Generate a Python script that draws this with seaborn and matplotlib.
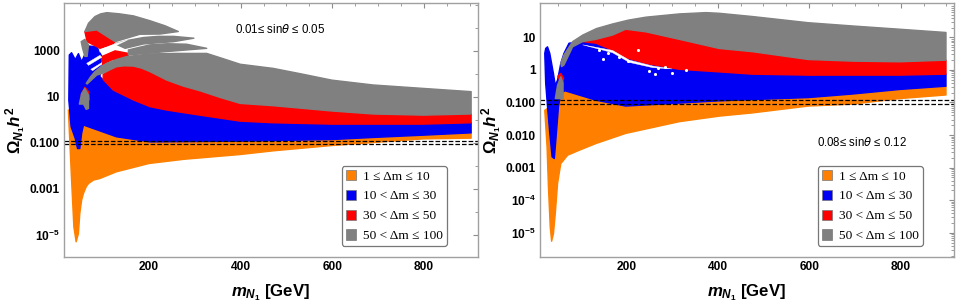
import matplotlib
matplotlib.use('Agg')
import matplotlib.pyplot as plt
from matplotlib.patches import Patch
from matplotlib.ticker import FixedLocator, LogLocator, NullFormatter
import numpy as np
import pandas as pd
import seaborn as sns

ORANGE, BLUE, RED, GRAY = '#FF8000', '#0000F5', '#FF0000', '#808080'
legend_labels = ['1 ≤ Δm ≤ 10', '10 < Δm ≤ 30', '30 < Δm ≤ 50', '50 < Δm ≤ 100']

# relic density bounds
relic_band = [0.12, 0.09]

# ---- left panel, outlines as (mass, log10 of omega h^2) ----
l_orange_x = [24, 28, 31, 36, 41, 46, 49, 53, 57, 63, 68, 79, 93, 129, 200, 275, 399, 471, 599, 689, 799, 903,
              903, 799, 689, 599, 399, 202, 129, 57, 46, 31, 24]
l_orange_y = [.42, -1.32, -2.62, -4.65, -5.30, -4.94, -4.07, -3.49, -3.20, -2.91, -2.77, -2.62, -2.55, -2.26, -1.90, -1.72, -1.51, -1.35, -1.12, -.99, -.83, -.80,
              -.57, -.67, -.77, -.86, -.93, -.96, -.74, -.23, -.52, .42, .42]
l_blue_x = [25, 30, 39, 44, 49, 53, 57, 129, 202, 399, 599, 689, 799, 903,
            903, 799, 689, 599, 471, 399, 311, 239, 202, 166, 122, 93, 97, 86, 68, 53, 46, 39, 31, 26]
l_blue_y = [.85, -.3, -.81, -1.25, -1.25, -.59, -.23, -.74, -.96, -.93, -.86, -.77, -.67, -.57,
            -.13, -.19, -.19, -.19, -.13, -.06, .20, .42, .57, .86, 1.29, 1.87, 2.75, 3.17, 3.2, 2.52, 2.87, 2.61, 2.91, 2.81]
l_red_x = [100, 115, 129, 145, 166, 184, 202, 239, 275, 311, 355, 399, 471, 599, 689, 799, 903,
           903, 799, 689, 599, 471, 399, 311, 239, 202, 166, 122, 100]
l_red_y = [1.96, 2.17, 2.30, 2.34, 2.33, 2.24, 2.09, 1.72, 1.46, 1.26, .97, .71, .61, .38, .25, .20, .25,
           -.13, -.19, -.19, -.19, -.13, -.06, .20, .42, .57, .86, 1.29, 1.75]
l_red_a_x = [60, 86, 126, 122, 93, 65]
l_red_a_y = [3.83, 3.90, 3.39, 3.29, 3.10, 3.39]
l_red_b_x = [97, 126, 155, 155, 118, 97]
l_red_b_y = [2.74, 2.99, 2.88, 2.74, 2.59, 2.38]
l_red_c_x = [52, 60, 68, 70]
l_red_c_y = [1.07, 1.41, 1.22, .86]
l_gray_x = [63, 72, 82, 95, 108, 130, 151, 202, 260, 326, 362, 399, 471, 530, 599, 689, 799, 903,
            903, 799, 689, 599, 471, 399, 355, 311, 275, 239, 202, 184, 166, 145, 129, 115, 100, 86, 65]
l_gray_y = [1.58, 1.85, 2.09, 2.30, 2.45, 2.62, 2.74, 2.86, 2.88, 2.88, 2.65, 2.41, 2.23, 2.00, 1.72, 1.51, 1.36, 1.22,
            .25, .20, .25, .38, .61, .71, .97, 1.26, 1.46, 1.72, 2.09, 2.24, 2.33, 2.34, 2.30, 2.17, 2.02, 1.94, 1.55]
l_lobe_x = [60, 68, 82, 95, 108, 135, 166, 202, 235, 264, 224, 180, 126, 86]
l_lobe_y = [3.83, 4.19, 4.48, 4.60, 4.65, 4.60, 4.51, 4.30, 4.08, 3.83, 3.72, 3.71, 3.39, 3.90]
l_streak2_x = [126, 155, 188, 220, 254, 298, 254, 188, 148]
l_streak2_y = [3.30, 3.45, 3.57, 3.62, 3.62, 3.54, 3.39, 3.29, 3.10]
l_streak3_x = [155, 180, 202, 240, 282, 326, 239, 155]
l_streak3_y = [3.03, 3.15, 3.25, 3.30, 3.28, 3.10, 2.96, 2.81]
l_blob1_x = [52, 60, 68, 65, 60, 55]
l_blob1_y = [3.39, 3.49, 3.25, 2.75, 2.75, 3.10]
l_blob2_x = [48, 53, 60, 68, 68, 63, 57]
l_blob2_y = [.68, 1.14, 1.36, 1.07, .49, .45, .68]
l_gap1_x = [64, 93, 97, 68]
l_gap1_y = [2.45, 2.80, 2.71, 2.36]
l_gap2_x = [73, 97, 97, 77]
l_gap2_y = [2.19, 2.48, 2.41, 2.13]
l_gap3_x = [92, 126, 153, 126, 93]
l_gap3_y = [3.03, 3.30, 3.46, 3.20, 2.93]

# ---- right panel ----
r_orange_x = [22, 27, 30, 34, 37, 41, 45, 50, 57, 72, 97, 134, 199, 316, 403, 476, 598, 695, 798, 899,
              899, 798, 695, 598, 476, 403, 199, 134, 66, 54]
r_orange_y = [-1.24, -2.36, -3.59, -4.83, -5.26, -5.03, -4.42, -3.49, -2.88, -2.62, -2.47, -2.26, -1.95, -1.59, -1.42, -1.32, -1.11, -1.05, -.88, -.77,
              -.50, -.60, -.74, -.85, -.91, -.95, -1.11, -.93, -.64, -.93]
r_blue_x = [22, 24, 28, 33, 38, 43, 48, 52, 57, 66, 134, 199, 403, 476, 598, 695, 798, 899,
            899, 798, 695, 598, 476, 403, 316, 243, 199, 170, 134, 105, 75, 64, 57, 50, 45, 41, 33, 28, 24]
r_blue_y = [.51, -.41, -1.13, -1.95, -2.67, -2.72, -1.85, -1.13, -.72, -.64, -.93, -1.11, -.95, -.91, -.85, -.74, -.60, -.50,
            -.13, -.16, -.16, -.16, -.13, -.06, .02, .20, .38, .61, .82, .87, .82, .51, .20, -.31, -.47, -.11, .51, .71, .66]
r_red_x = [105, 134, 170, 199, 243, 316, 403, 476, 598, 695, 798, 899,
           899, 798, 695, 598, 476, 403, 316, 243, 199, 170, 134]
r_red_y = [.87, .94, 1.07, 1.25, 1.17, .94, .66, .56, .32, .27, .25, .30,
           -.13, -.16, -.16, -.16, -.13, -.06, .02, .20, .38, .61, .82]
r_red_c_x = [51, 57, 63, 60]
r_red_c_y = [-.19, -.11, -.26, -.52]
r_gray_x = [57, 64, 83, 105, 135, 170, 205, 243, 316, 374, 403, 476, 598, 695, 798, 899,
            899, 798, 695, 598, 476, 403, 316, 243, 199, 170, 134, 105, 83, 64, 59]
r_gray_y = [.20, .46, .87, 1.07, 1.27, 1.41, 1.53, 1.62, 1.72, 1.76, 1.74, 1.64, 1.45, 1.35, 1.25, 1.15,
            .30, .25, .27, .32, .56, .66, .94, 1.17, 1.25, 1.07, .94, .87, .71, .15, .10]
r_blob_x = [45, 50, 57, 62, 62]
r_blob_y = [-.88, -.47, -.21, -.41, -.88]
r_gap_x = [105, 170, 207, 258, 300, 258, 207, 170]
r_gap_y = [.77, .60, .30, .12, .03, .07, .23, .53]
r_dots_x = [150, 185, 205, 225, 250, 262, 270, 285, 300, 330, 140, 160]
r_dots_y = [.35, .40, .28, .62, -.02, -.12, .05, .10, -.08, .00, .60, .52]


def poly(ax, xs, logy, color, lw=1.0):
    ax.fill(xs, 10.0 ** np.array(logy), color=color, lw=lw, joinstyle='round')


def finish(ax, xlim, ylim, major, labels, subs):
    ax.set_yscale('log')
    ax.set_xlim(*xlim)
    ax.set_ylim(*ylim)
    ax.set_xticks([200, 400, 600, 800])
    ax.xaxis.set_minor_locator(FixedLocator(list(range(50, 901, 50))))
    ax.yaxis.set_major_locator(FixedLocator(major))
    ax.set_yticklabels(labels)
    ax.yaxis.set_minor_locator(LogLocator(base=10, subs=subs, numticks=30))
    ax.yaxis.set_minor_formatter(NullFormatter())
    ax.tick_params(which='both', direction='in', top=True, right=True, color='#8c8c8c')
    ax.tick_params(which='major', length=3.5, width=.8, labelsize=8.6, pad=3, labelcolor='black')
    ax.tick_params(which='minor', length=2, width=.6)
    for lab in ax.get_xticklabels() + ax.get_yticklabels():
        lab.set_fontweight('bold')
    for s in ax.spines.values():
        s.set_color('#a0a0a0')
        s.set_linewidth(1.0)
    for y in relic_band:
        df = pd.DataFrame({'m': list(xlim), 'o': [y, y]})
        sns.lineplot(data=df, x='m', y='o', ax=ax, color='black', lw=.9, ls='--', errorbar=None)
    ax.set_xlabel(r'$\mathit{m}_{\mathit{N}_{1}}$ [GeV]', fontsize=12.1, fontweight='bold', labelpad=7, color='black')
    ax.set_ylabel(r'$\Omega_{\mathit{N}_{1}}\mathit{h}^{2}$', fontsize=12.2, fontweight='bold', labelpad=1, color='black')
    handles = [Patch(facecolor=c, edgecolor='#777777', lw=.5) for c in (ORANGE, BLUE, RED, GRAY)]
    leg = ax.legend(handles, legend_labels, loc='lower right', bbox_to_anchor=(.925, .043),
                    prop={'family': 'Liberation Serif', 'size': 9.6}, handlelength=.8, handleheight=.8,
                    handletextpad=.5, labelspacing=.53, borderpad=.3, borderaxespad=0,
                    fancybox=True, framealpha=1, edgecolor='#777777', labelcolor='black')
    leg.get_frame().set_linewidth(.9)


sns.set_theme(style='white')
plt.rcParams['font.family'] = ['Liberation Sans', 'DejaVu Sans']
plt.rcParams['mathtext.fontset'] = 'custom'
plt.rcParams['mathtext.rm'] = 'Liberation Sans:bold'
plt.rcParams['mathtext.it'] = 'Liberation Sans:italic:bold'
plt.rcParams['mathtext.bf'] = 'Liberation Sans:bold'

fig = plt.figure(figsize=(9.57, 3.04), dpi=100)
ax1 = fig.add_axes([64 / 957, 47 / 304, 414 / 957, 254 / 304])
ax2 = fig.add_axes([540 / 957, 47 / 304, 414 / 957, 254 / 304])

poly(ax1, l_orange_x, l_orange_y, ORANGE)
poly(ax1, l_blue_x, l_blue_y, BLUE)
for xs, ys in [(l_red_x, l_red_y), (l_red_a_x, l_red_a_y), (l_red_b_x, l_red_b_y), (l_red_c_x, l_red_c_y)]:
    poly(ax1, xs, ys, RED)
for xs, ys in [(l_gray_x, l_gray_y), (l_lobe_x, l_lobe_y), (l_streak2_x, l_streak2_y),
               (l_streak3_x, l_streak3_y), (l_blob1_x, l_blob1_y), (l_blob2_x, l_blob2_y)]:
    poly(ax1, xs, ys, GRAY)
for xs, ys in [(l_gap1_x, l_gap1_y), (l_gap2_x, l_gap2_y), (l_gap3_x, l_gap3_y)]:
    poly(ax1, xs, ys, 'white', lw=.3)
finish(ax1, (14.5, 918), (1.1e-6, 1.17e5), [1e3, 10, .1, 1e-3, 1e-5],
       ['1000', '10', '0.100', '0.001', r'$\mathbf{10^{-5}}$'], (1.0,))
ax1.text(.4125, .897, r'0.01≤ sin$\theta$ ≤ 0.05', transform=ax1.transAxes, fontsize=8.3,
         va='center', color='black', math_fontfamily='dejavusans')

poly(ax2, r_orange_x, r_orange_y, ORANGE)
poly(ax2, r_blue_x, r_blue_y, BLUE)
poly(ax2, r_red_x, r_red_y, RED)
poly(ax2, r_red_c_x, r_red_c_y, RED)
poly(ax2, r_gray_x, r_gray_y, GRAY)
poly(ax2, r_blob_x, r_blob_y, GRAY)
poly(ax2, r_gap_x, r_gap_y, 'white', lw=.3)
dots = pd.DataFrame({'m': r_dots_x, 'o': 10.0 ** np.array(r_dots_y)})
sns.scatterplot(data=dots, x='m', y='o', ax=ax2, color='white', s=5, linewidth=0)
finish(ax2, (11.6, 916.5), (1.8e-6, 113.5), [10, 1, .1, .01, .001, 1e-4, 1e-5],
       ['10', '1', '0.100', '0.010', '0.001', r'$\mathbf{10^{-4}}$', r'$\mathbf{10^{-5}}$'], tuple(range(2, 10)))
ax2.text(.67, .449, r'0.08≤ sin$\theta$ ≤ 0.12', transform=ax2.transAxes, fontsize=8.3,
         va='center', color='black', math_fontfamily='dejavusans')

fig.savefig('out.png', dpi=100)
